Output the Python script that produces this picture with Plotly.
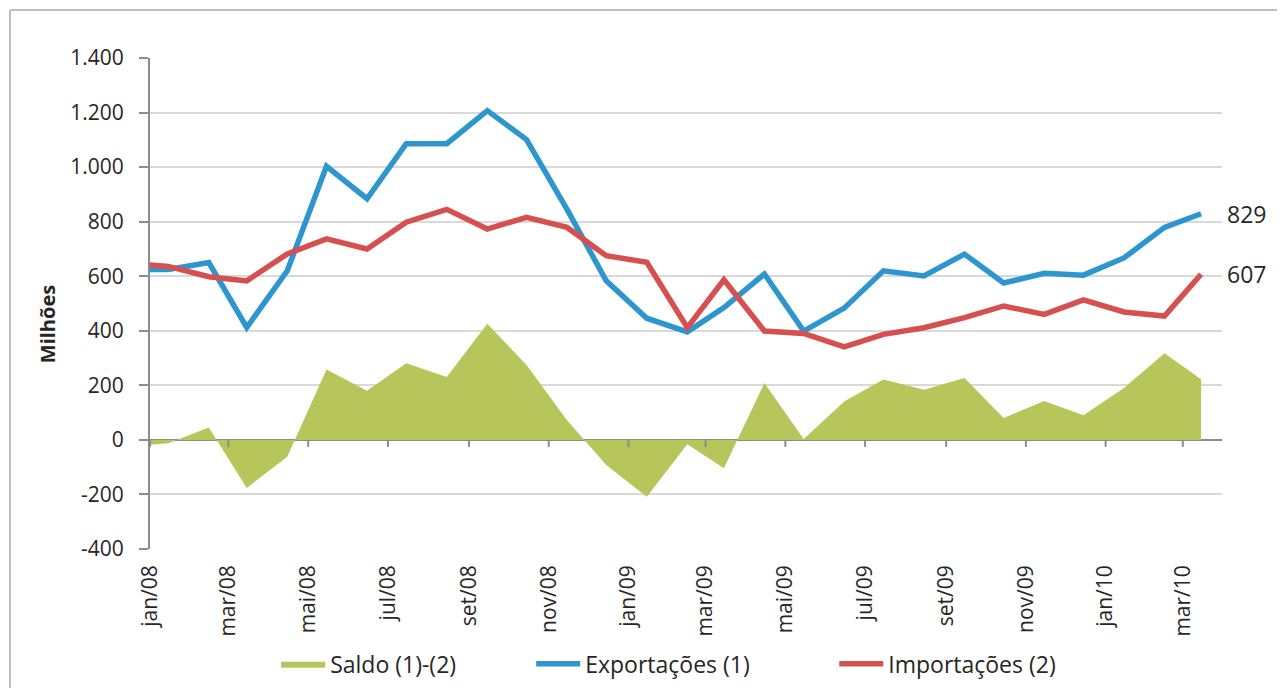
import plotly.graph_objects as go
import pandas as pd

# ---------------- data ----------------
months = ["2007-12", "2008-01", "2008-02", "2008-03", "2008-04", "2008-05", "2008-06",
          "2008-07", "2008-08", "2008-09", "2008-10", "2008-11", "2008-12",
          "2009-01", "2009-02", "2009-03", "2009-04", "2009-05", "2009-06",
          "2009-07", "2009-08", "2009-09", "2009-10", "2009-11", "2009-12",
          "2010-01", "2010-02", "2010-03"]

exportacoes = [625, 625, 650, 412, 620, 1003, 884, 1086, 1086, 1207, 1101, 845, 583,
               446, 396, 485, 608, 399, 483, 620, 601, 681, 575, 611, 604, 667, 779, 829]

importacoes = [647, 636, 598, 583, 682, 737, 700, 798, 845, 773, 816, 779, 675,
               651, 411, 587, 399, 390, 341, 387, 411, 448, 491, 460, 513, 469, 454, 607]

saldo = [-25, -12, 45, -176, -62, 258, 180, 281, 231, 426, 275, 72, -92,
         -208, -16, -104, 209, 3, 141, 221, 184, 227, 80, 143, 90, 190, 318, 222]

tick_months = ["2008-01", "2008-03", "2008-05", "2008-07", "2008-09", "2008-11",
               "2009-01", "2009-03", "2009-05", "2009-07", "2009-09", "2009-11",
               "2010-01", "2010-03"]
tick_labels = ["jan/08", "mar/08", "mai/08", "jul/08", "set/08", "nov/08",
               "jan/09", "mar/09", "mai/09", "jul/09", "set/09", "nov/09",
               "jan/10", "mar/10"]

y_ticks = [-400, -200, 0, 200, 400, 600, 800, 1000, 1200, 1400]
y_labels = [f"{v:,}".replace(",", ".") for v in y_ticks]

# ---------------- styles ----------------
C_BLUE = "#2E96CF"
C_RED = "#D5504E"
C_GREEN = "#B7C65B"
C_AXIS = "#8C8C8C"
C_GRID = "#D9D9D9"
C_TEXT = "#262626"
FONT = "Open Sans"

dates = [pd.Timestamp(m + "-15") for m in months]
tick_dates = [pd.Timestamp(m + "-01") for m in tick_months]

fig = go.Figure()

fig.add_trace(go.Scatter(
    x=dates, y=saldo, name="Saldo (1)-(2)", mode="lines",
    fill="tozeroy", fillcolor=C_GREEN, line=dict(width=0, color=C_GREEN),
    legend="legend"))

fig.add_trace(go.Scatter(
    x=dates, y=exportacoes, name="Exportações (1)", mode="lines",
    line=dict(color=C_BLUE, width=5.5), legend="legend2"))

fig.add_trace(go.Scatter(
    x=dates, y=importacoes, name="Importações (2)", mode="lines",
    line=dict(color=C_RED, width=5.5), legend="legend3"))

# end labels
for series in (exportacoes, importacoes):
    fig.add_annotation(x=dates[-1], y=series[-1], text=f"{series[-1]}",
                       showarrow=False, xanchor="left", yanchor="middle",
                       xshift=24, font=dict(family=FONT, size=23, color=C_TEXT))

# y-axis title
fig.add_annotation(text="<b>Milhões</b>", xref="paper", yref="paper",
                   x=-0.096, y=0.458, textangle=-90, showarrow=False,
                   xanchor="center", yanchor="middle",
                   font=dict(family=FONT, size=20, color=C_TEXT))

# tick marks on the zero line
for d in tick_dates:
    fig.add_shape(type="line", xref="x", yref="y", x0=d, x1=d,
                  ysizemode="pixel", yanchor=0, y0=0, y1=-7,
                  line=dict(color=C_AXIS, width=2), layer="above")

# outer frame (left and top edges)
fig.add_shape(type="line", xref="paper", yref="paper", x0=-0.1306, x1=-0.1306,
              y0=-0.35, y1=1.0978, line=dict(color="#BFBFBF", width=2))
fig.add_shape(type="line", xref="paper", yref="paper", x0=-0.1306, x1=1.1,
              y0=1.0978, y1=1.0978, line=dict(color="#BFBFBF", width=2))

legend_common = dict(orientation="h", xanchor="left", yanchor="middle", y=-0.234,
                     yref="paper", xref="paper", bgcolor="rgba(0,0,0,0)",
                     font=dict(family=FONT, size=23, color=C_TEXT), itemwidth=44)

# page body has an 8px margin: the figure is sized/offset to compensate
fig.update_layout(
    width=1277, height=680,
    margin=dict(l=142, r=63, t=50, b=139, autoexpand=False),
    paper_bgcolor="white", plot_bgcolor="white",
    separators=",.",
    font=dict(family=FONT, color=C_TEXT),
    xaxis=dict(type="date", range=["2008-01-01", "2010-03-31"],
               tickmode="array", tickvals=tick_dates, ticktext=tick_labels,
               tickangle=-90, showgrid=False, showline=False, zeroline=False,
               ticks="", ticklabelstandoff=11, automargin=False,
               tickfont=dict(family=FONT, size=21, color=C_TEXT)),
    yaxis=dict(range=[-400, 1400], tickmode="array", tickvals=y_ticks, ticktext=y_labels,
               showgrid=True, gridcolor=C_GRID, gridwidth=2,
               zeroline=True, zerolinecolor=C_AXIS, zerolinewidth=2,
               showline=True, linecolor=C_AXIS, linewidth=2,
               ticks="outside", ticklen=9, tickwidth=2, tickcolor=C_AXIS,
               ticklabelstandoff=11, automargin=False,
               tickfont=dict(family=FONT, size=21, color=C_TEXT)),
    legend=dict(legend_common, x=0.1177),
    legend2=dict(legend_common, x=0.3556),
    legend3=dict(legend_common, x=0.6383),
    showlegend=True,
)

fig.write_html("out.html")
